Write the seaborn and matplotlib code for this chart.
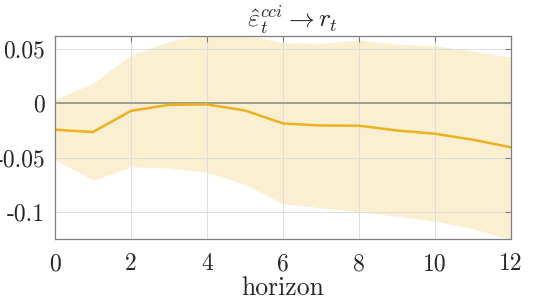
import matplotlib
matplotlib.use("Agg")
import matplotlib.pyplot as plt
import seaborn as sns
import pandas as pd

# impulse response of r_t to the cci shock, with its band
horizon = [0, 1, 2, 3, 4, 5, 6, 7, 8, 9, 10, 11, 12]
irf = [-0.0243, -0.0264, -0.0069, -0.0014, -0.0010, -0.0066, -0.0185,
       -0.0204, -0.0206, -0.0250, -0.0280, -0.0335, -0.0405]
upper = [0.0038, 0.0185, 0.0445, 0.0570, 0.0635, 0.0630, 0.0558,
         0.0552, 0.0583, 0.0546, 0.0530, 0.0482, 0.0424]
lower = [-0.0518, -0.0708, -0.0585, -0.0595, -0.0635, -0.0748, -0.0925,
         -0.0962, -0.0999, -0.1039, -0.1085, -0.1154, -0.1255]
ytick_vals = [-0.1, -0.05, 0, 0.05]
ytick_labels = ["-0.1", "-0.05", "0", "0.05"]
xtick_vals = [0, 2, 4, 6, 8, 10, 12]

sns.set_style("white")
plt.rcParams["font.family"] = "serif"
plt.rcParams["font.serif"] = ["cmr10", "DejaVu Serif"]
plt.rcParams["mathtext.fontset"] = "cm"
plt.rcParams["axes.unicode_minus"] = False

df = pd.DataFrame({"horizon": horizon, "irf": irf})
line_color = "#EDB120"

fig = plt.figure(figsize=(5.45, 3.0), dpi=100)
ax = fig.add_axes([0.101, 0.203, 0.8366, 0.677])

ax.fill_between(horizon, lower, upper, color=line_color, alpha=0.2, lw=0, zorder=1)
ax.axhline(0, color="#9a968c", lw=1.3, zorder=2.6)
sns.lineplot(data=df, x="horizon", y="irf", color=line_color, lw=1.8, ax=ax, zorder=3)

ax.set_xlim(0, 12)
ax.set_ylim(-0.125, 0.062)
ax.set_xticks(xtick_vals)
ax.set_xticklabels([str(v) for v in xtick_vals])
ax.set_yticks(ytick_vals)
ax.set_yticklabels(ytick_labels)
ax.grid(True, color="#dedede", lw=0.7)
ax.set_axisbelow(False)
for sp in ax.spines.values():
    sp.set_color("#7f7f7f")
    sp.set_linewidth(0.9)
    sp.set_zorder(4)
ax.tick_params(direction="in", length=4, width=0.8, color="#7f7f7f",
               top=True, right=True, labelsize=17)
ax.tick_params(axis="x", pad=10)
ax.tick_params(axis="y", pad=7)
ax.set_xlabel("horizon", fontsize=18.5, labelpad=1)
ax.set_ylabel("")
ax.set_title(r"$\hat{\varepsilon}_t^{cci} \rightarrow r_t$", fontsize=18.5, pad=6, x=0.52)

fig.savefig("out.png", dpi=100)
